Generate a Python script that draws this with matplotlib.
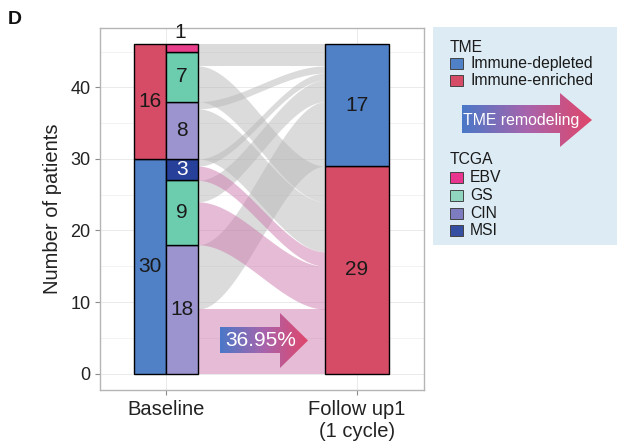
import matplotlib
matplotlib.use("Agg")
import matplotlib.pyplot as plt
import numpy as np
from matplotlib.colors import LinearSegmentedColormap
from matplotlib.patches import Polygon, Rectangle

plt.rcParams["font.family"] = ["Liberation Sans", "DejaVu Sans"]

# ---- data ----
baseline_tme = ["Immune-depleted", "Immune-enriched"]
baseline_counts = [30, 16]

tcga_labels = ["CIN", "GS", "MSI", "CIN", "GS", "EBV"]
tcga_tme = ["Immune-depleted"] * 3 + ["Immune-enriched"] * 3
tcga_counts = [18, 9, 3, 8, 7, 1]

follow_tme = ["Immune-enriched", "Immune-depleted"]
follow_counts = [29, 17]

# flows from TCGA stratum (index) to follow-up TME
flow_src = [0, 0, 1, 1, 2, 2, 3, 3, 4, 4, 5]
flow_dst = ["Immune-enriched", "Immune-depleted"] * 5 + ["Immune-depleted"]
flow_n = [9, 9, 6, 3, 2, 1, 7, 1, 5, 2, 1]

remodel_pct = "36.95%"

tme_colors = {"Immune-depleted": "#5080C6", "Immune-enriched": "#D64B65"}
tcga_colors = {"EBV": "#E83E8C", "GS": "#6CCDAE", "CIN": "#9B94CE", "MSI": "#27409A"}
legend_tcga = ["EBV", "GS", "CIN", "MSI"]
legend_tcga_colors = ["#E8368F", "#8FD5BF", "#7D7CC0", "#3550A3"]

W, H = 617, 446
fig = plt.figure(figsize=(W / 100, H / 100), dpi=100)
ax = fig.add_axes([100 / W, (H - 390) / H, 324 / W, 362 / H])
ax.set_xlim(0.6545, 2.351)
ax.set_ylim(-2.3, 48.3)

# grid / frame like theme_light
for y in range(0, 50, 5):
    ax.axhline(y, color="#F0F0F0" if y % 10 else "#E6E6E6", lw=0.6, zorder=0)
for x in [1, 2]:
    ax.axvline(x, color="#E6E6E6", lw=0.6, zorder=0)
for s in ax.spines.values():
    s.set_color("#B5B5B5")
    s.set_linewidth(1.0)
ax.tick_params(colors="#8C8C8C", length=3.5, width=0.8, labelcolor="#222222", labelsize=13)
ax.set_yticks([0, 10, 20, 30, 40])
ax.set_xticks([1, 2])
ax.set_xticklabels(["Baseline", "Follow up1\n(1 cycle)"], fontsize=14.5, linespacing=1.25)
ax.set_ylabel("Number of patients", fontsize=14.5, color="#222222", labelpad=6)

x_tme = (0.8333, 1.0)
x_tcga = (1.0, 1.1667)
x_fol = (1.8333, 2.1667)


def smooth(t):
    return 3 * t ** 2 - 2 * t ** 3


# ---- flows ----
src_bottom = np.concatenate([[0], np.cumsum(tcga_counts)[:-1]])
fol_bottom = {k: b for k, b in zip(follow_tme, np.concatenate([[0], np.cumsum(follow_counts)[:-1]]))}
src_used = {i: 0 for i in range(len(tcga_counts))}
dst_used = {k: 0 for k in follow_tme}
order_dst = {k: i for i, k in enumerate(follow_tme)}
idx = sorted(range(len(flow_n)), key=lambda i: (flow_src[i], order_dst[flow_dst[i]]))
t = np.linspace(0, 1, 80)
xs = x_tcga[1] + (x_fol[0] - x_tcga[1]) * t
for i in idx:
    s, d, n = flow_src[i], flow_dst[i], flow_n[i]
    a0 = src_bottom[s] + src_used[s]
    src_used[s] += n
    b0 = fol_bottom[d] + dst_used[d]
    dst_used[d] += n
    lo = a0 + (b0 - a0) * smooth(t)
    hi = lo + n
    pink = tcga_tme[s] == "Immune-depleted" and d == "Immune-enriched"
    col = "#CC79AE" if pink else "#B8B8B8"
    ax.fill_between(xs, lo, hi, color=col, alpha=0.5, lw=0, zorder=1)

# ---- strata ----
LBL = 15


def stack(x, labels, counts, colors):
    b = 0
    for lab, c in zip(labels, counts):
        ax.bar((x[0] + x[1]) / 2, c, width=x[1] - x[0], bottom=b, color=colors[lab],
               edgecolor="black", lw=1.0, zorder=3)
        ax.text((x[0] + x[1]) / 2, b + c / 2, str(c), ha="center", va="center",
                fontsize=LBL, color="#1A1A1A", zorder=4)
        b += c


stack(x_tme, baseline_tme, baseline_counts, tme_colors)
b = 0
for lab, c in zip(tcga_labels, tcga_counts):
    ax.bar((x_tcga[0] + x_tcga[1]) / 2, c, width=x_tcga[1] - x_tcga[0], bottom=b,
           color=tcga_colors[lab], edgecolor="black", lw=1.0, zorder=3)
    if c > 1:
        ax.text((x_tcga[0] + x_tcga[1]) / 2, b + c / 2, str(c), ha="center", va="center",
                fontsize=LBL, color="white" if lab == "MSI" else "#1A1A1A", zorder=4)
    else:
        # tiny stratum: label sits just above the bar
        ax.text((x_tcga[0] + x_tcga[1]) / 2 - 0.01, b + c + 0.3, str(c), ha="center",
                va="bottom", fontsize=LBL, color="#1A1A1A", zorder=4)
    b += c
stack(x_fol, follow_tme, follow_counts, tme_colors)

# ---- overlay in pixel coords ----
ov = fig.add_axes([0, 0, 1, 1])
ov.set_xlim(0, W)
ov.set_ylim(H, 0)
ov.axis("off")

grad = LinearSegmentedColormap.from_list("g", ["#4A78C8", "#A864AC", "#E0466A"])


def grad_arrow(x0, xb, xt, yb0, yb1, yh0, yh1, text, fs, tx):
    yc = (yh0 + yh1) / 2
    pts = [(x0, yb0), (xb, yb0), (xb, yh0), (xt, yc), (xb, yh1), (xb, yb1), (x0, yb1)]
    poly = Polygon(pts, closed=True, facecolor="none", edgecolor="none")
    ov.add_patch(poly)
    im = ov.imshow(np.linspace(0, 1, 256)[None, :], cmap=grad, aspect="auto",
                   extent=(x0, xt, yh1, yh0), zorder=5)
    im.set_clip_path(poly)
    ov.text(tx, (yb0 + yb1) / 2 + 1, text, color="white", fontsize=fs,
            ha="left", va="center", zorder=6)


grad_arrow(220, 280, 308, 327, 353, 313, 368, remodel_pct, 15, 225)

# legend box
ov.add_patch(Rectangle((433, 27), 184, 218, facecolor="#DDEBF4", edgecolor="none", zorder=4))
ov.text(450, 47, "TME", fontsize=11.3, va="center", ha="left", color="#1A1A1A", zorder=6)
for lab, yc in zip(baseline_tme, [63.5, 80.5]):
    ov.add_patch(Rectangle((450, yc - 5.5), 12.5, 11, facecolor=tme_colors[lab],
                           edgecolor="#444444", lw=0.7, zorder=6))
    ov.text(470, yc, lab, fontsize=11.3, va="center", ha="left", color="#1A1A1A", zorder=6)
grad_arrow(462, 560, 592, 105, 133, 93, 147, "TME remodeling", 11.4, 463)
ov.text(450, 160, "TCGA", fontsize=11.3, va="center", ha="left", color="#1A1A1A", zorder=6)
for lab, col, yc in zip(legend_tcga, legend_tcga_colors, [177.5, 195.5, 213, 230.5]):
    ov.add_patch(Rectangle((450, yc - 5.5), 12.5, 11, facecolor=col,
                           edgecolor="#444444", lw=0.7, zorder=6))
    ov.text(470, yc, lab, fontsize=11.3, va="center", ha="left", color="#1A1A1A", zorder=6)

ov.text(8, 19, "D", fontsize=14, fontweight="bold", va="center", ha="left", color="#111111")

fig.savefig("out.png", dpi=100)
